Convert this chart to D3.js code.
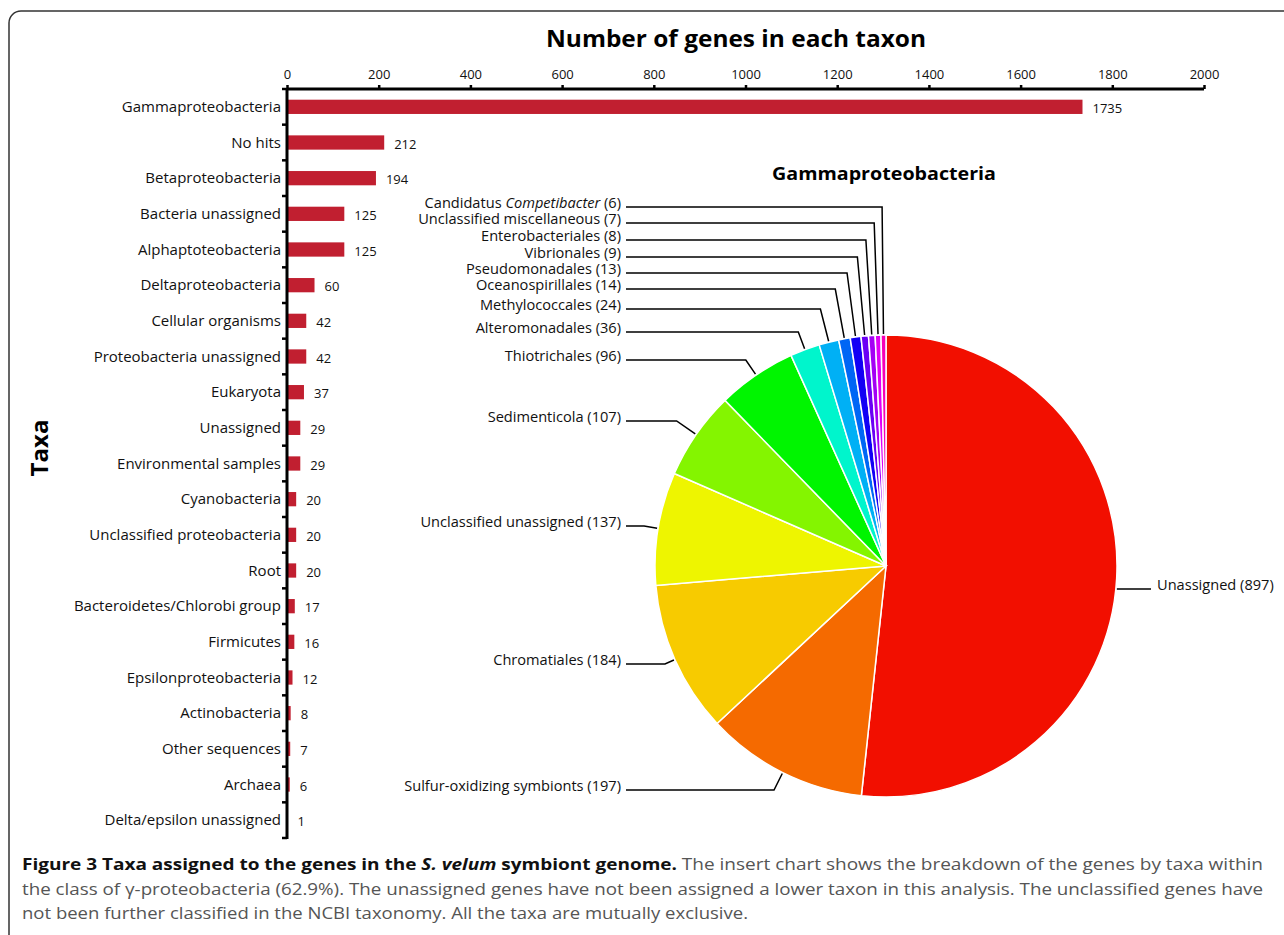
<!DOCTYPE html>
<html lang="en">
<head>
    <meta charset="UTF-8">
    <title>Taxa assigned to genes</title>
    <style>
        body { margin: 0; background: #fff; }
        svg text { font-family: "Open Sans", "Noto Sans", sans-serif; }
    </style>
</head>
<body>
    <div id="container"></div>
    <script src="https://cdn.jsdelivr.net/npm/d3@7/dist/d3.min.js"></script>
    <script>
        // Bar chart data: number of genes per taxon
        var taxa = ["Gammaproteobacteria", "No hits", "Betaproteobacteria", "Bacteria unassigned",
            "Alphaptoteobacteria", "Deltaproteobacteria", "Cellular organisms", "Proteobacteria unassigned",
            "Eukaryota", "Unassigned", "Environmental samples", "Cyanobacteria", "Unclassified proteobacteria",
            "Root", "Bacteroidetes/Chlorobi group", "Firmicutes", "Epsilonproteobacteria", "Actinobacteria",
            "Other sequences", "Archaea", "Delta/epsilon unassigned"];
        var geneCounts = [1735, 212, 194, 125, 125, 60, 42, 42, 37, 29, 29, 20, 20, 20, 17, 16, 12, 8, 7, 6, 1];
        var xTicks = [0, 200, 400, 600, 800, 1000, 1200, 1400, 1600, 1800, 2000];

        // Pie chart data: gammaproteobacteria breakdown (clockwise from 12 o'clock)
        var gammaOrders = ["Unassigned", "Sulfur-oxidizing symbionts", "Chromatiales", "Unclassified unassigned",
            "Sedimenticola", "Thiotrichales", "Alteromonadales", "Methylococcales", "Oceanospirillales",
            "Pseudomonadales", "Vibrionales", "Enterobacteriales", "Unclassified miscellaneous", "Candidatus Competibacter"];
        var gammaCounts = [897, 197, 184, 137, 107, 96, 36, 24, 14, 13, 9, 8, 7, 6];
        var gammaColors = ["#f20f00", "#f56a00", "#f7cb00", "#eef500", "#84f500", "#00f500", "#00f5cc",
            "#00b0f5", "#0066f5", "#1200f5", "#6a00f5", "#a400f5", "#e000f5", "#f500b8"];

        var width = 1284, height = 935;

        var svg = d3.select("#container").append("svg")
            .attr("width", width)
            .attr("height", height);

        // Frame around the figure
        svg.append("rect")
            .attr("x", 9).attr("y", 11)
            .attr("width", 1300).attr("height", 960)
            .attr("rx", 12)
            .attr("fill", "none")
            .attr("stroke", "#333")
            .attr("stroke-width", 1.5);

        // ---------- Bar chart ----------
        var x = d3.scaleLinear().domain([0, 2000]).range([287, 1204]);
        var y = d3.scaleBand().domain(taxa).range([89, 838]).paddingInner(0.6).paddingOuter(0.3);

        svg.append("text")
            .attr("x", 736).attr("y", 47)
            .attr("text-anchor", "middle")
            .attr("font-size", 24).attr("font-weight", "bold")
            .attr("textLength", 380).attr("lengthAdjust", "spacingAndGlyphs")
            .text("Number of genes in each taxon");

        var xAxis = svg.append("g")
            .attr("transform", "translate(0,89)")
            .call(d3.axisTop(x).tickValues(xTicks).tickSize(4).tickPadding(6).tickFormat(d3.format("d")));
        xAxis.select(".domain").attr("stroke-width", 3).attr("d", "M287,0H1204");
        xAxis.selectAll(".tick line").attr("stroke-width", 2.5);
        xAxis.selectAll(".tick text").attr("font-size", 13).attr("fill", "#111");

        // Bars
        svg.append("g").selectAll("rect")
            .data(geneCounts)
            .enter().append("rect")
            .attr("x", x(0))
            .attr("y", function (d, i) { return y(taxa[i]); })
            .attr("width", function (d) { return x(d) - x(0); })
            .attr("height", y.bandwidth())
            .attr("fill", "#c11f30");

        // Value labels
        svg.append("g").selectAll("text")
            .data(geneCounts)
            .enter().append("text")
            .attr("x", function (d) { return x(d) + 10; })
            .attr("y", function (d, i) { return y(taxa[i]) + y.bandwidth() / 2 + 6; })
            .attr("font-size", 13)
            .attr("fill", "#111")
            .text(function (d) { return d; });

        // Y axis with ticks on band boundaries
        var yAxis = svg.append("g");
        yAxis.append("line")
            .attr("x1", 287).attr("x2", 287)
            .attr("y1", 88).attr("y2", 839)
            .attr("stroke", "#000").attr("stroke-width", 3);
        var bounds = d3.range(taxa.length + 1).map(function (i) { return 89 + i * y.step(); });
        yAxis.selectAll(".ytick")
            .data(bounds)
            .enter().append("line")
            .attr("class", "ytick")
            .attr("x1", 282).attr("x2", 287)
            .attr("y1", function (d) { return d; }).attr("y2", function (d) { return d; })
            .attr("stroke", "#000").attr("stroke-width", 2.5);

        // Category labels
        svg.append("g").selectAll("text")
            .data(taxa)
            .enter().append("text")
            .attr("x", 281)
            .attr("y", function (d) { return y(d) + y.bandwidth() / 2 + 5; })
            .attr("text-anchor", "end")
            .attr("font-size", 15)
            .attr("fill", "#111")
            .text(function (d) { return d; });

        svg.append("text")
            .attr("transform", "translate(48,448) rotate(-90)")
            .attr("text-anchor", "middle")
            .attr("font-size", 24).attr("font-weight", "bold")
            .text("Taxa");

        // ---------- Pie chart ----------
        var cx = 886, cy = 566, r = 231;
        var pieG = svg.append("g").attr("transform", "translate(" + cx + "," + cy + ")");

        var pie = d3.pie().sort(null).value(function (d) { return d; });
        var arcs = pie(gammaCounts);
        var arcPath = d3.arc().innerRadius(0).outerRadius(r);

        pieG.selectAll("path")
            .data(arcs)
            .enter().append("path")
            .attr("d", arcPath)
            .attr("fill", function (d, i) { return gammaColors[i]; })
            .attr("stroke", "#fff")
            .attr("stroke-width", 1.5);

        svg.append("text")
            .attr("x", 884).attr("y", 180)
            .attr("text-anchor", "middle")
            .attr("font-size", 18).attr("font-weight", "bold")
            .attr("textLength", 224).attr("lengthAdjust", "spacingAndGlyphs")
            .text("Gammaproteobacteria");

        // Label line heights, offsets from the pie centre
        var labelDy = [23, 224, 98, -40, -145, -206, -234, -257, -277, -293, -309, -326, -343, -359];

        var labels = svg.append("g");
        arcs.forEach(function (a, i) {
            var mid = (a.startAngle + a.endAngle) / 2;
            var dx = Math.sin(mid), dy = -Math.cos(mid);
            var ex = cx + (r + 1) * dx, ey = cy + (r + 1) * dy;
            var ly = cy + labelDy[i];
            var right = dx > 0;
            var pts;
            var k = (ly - ey) / dy;
            if (k > 0 && k < 150) {
                pts = [[ex, ey], [ex + k * dx, ly]];
            } else {
                var hx = Math.sqrt(r * r - labelDy[i] * labelDy[i]);
                pts = [[cx + (right ? hx + 1 : -hx - 1), ly]];
            }
            pts.push([right ? 1151 : 626, ly]);
            labels.append("path")
                .attr("d", d3.line()(pts))
                .attr("fill", "none")
                .attr("stroke", "#000")
                .attr("stroke-width", 1.5);

            var t = labels.append("text")
                .attr("x", right ? 1157 : 621)
                .attr("y", ly + 1)
                .attr("text-anchor", right ? "start" : "end")
                .attr("font-size", 14.6)
                .attr("fill", "#111");
            if (gammaOrders[i] === "Candidatus Competibacter") {
                t.append("tspan").text("Candidatus ");
                t.append("tspan").attr("font-style", "italic").text("Competibacter");
                t.append("tspan").text(" (" + gammaCounts[i] + ")");
            } else {
                t.text(gammaOrders[i] + " (" + gammaCounts[i] + ")");
            }
        });

        // ---------- Caption ----------
        var cap = svg.append("g").attr("font-size", 16).attr("fill", "#555");
        var l1 = cap.append("text").attr("x", 22).attr("y", 870)
            .attr("textLength", 1241).attr("lengthAdjust", "spacingAndGlyphs");
        l1.append("tspan").attr("font-weight", "bold").attr("fill", "#111").text("Figure 3 Taxa assigned to the genes in the ");
        l1.append("tspan").attr("font-weight", "bold").attr("font-style", "italic").attr("fill", "#111").text("S. velum");
        l1.append("tspan").attr("font-weight", "bold").attr("fill", "#111").text(" symbiont genome.");
        l1.append("tspan").text(" The insert chart shows the breakdown of the genes by taxa within");
        cap.append("text").attr("x", 22).attr("y", 895)
            .attr("textLength", 1241).attr("lengthAdjust", "spacingAndGlyphs")
            .text("the class of \u03b3-proteobacteria (62.9%). The unassigned genes have not been assigned a lower taxon in this analysis. The unclassified genes have");
        cap.append("text").attr("x", 22).attr("y", 919)
            .attr("textLength", 726).attr("lengthAdjust", "spacingAndGlyphs")
            .text("not been further classified in the NCBI taxonomy. All the taxa are mutually exclusive.");
    </script>
</body>
</html>
